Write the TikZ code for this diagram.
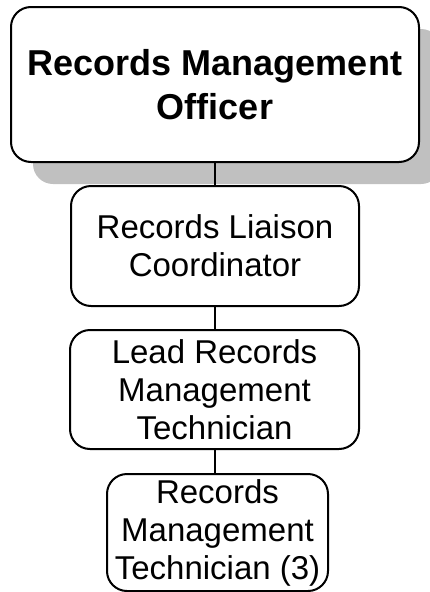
\documentclass[tikz,border=0pt]{standalone}
\usepackage{fontspec}
\setmainfont{Liberation Sans}
\usetikzlibrary{shapes,positioning,shadows}
\definecolor{shade}{RGB}{192,192,192}

\begin{document}
\begin{tikzpicture}[x=1pt,y=-1pt,
  box/.style={draw,line width=2pt,rounded corners=20pt,fill=white,inner sep=0pt,
              align=center,font=\fontsize{33}{38}\selectfont},
  conn/.style={line width=2pt}
]
\useasboundingbox (0,0) rectangle (430,592);
% Officer on top, with its grey shadow
\node[box,minimum width=408pt,minimum height=155pt,
      font=\fontsize{36}{44}\selectfont\bfseries,
      drop shadow={shadow xshift=22pt,shadow yshift=-22pt,fill=shade,opacity=1}]
      (rmo)  at (215,84.5)  {Records Management\\Officer};
% Chain below
\node[box,minimum width=288pt,minimum height=120pt] (rlc)  at (215,246)   {Records Liaison\\Coordinator};
\node[box,minimum width=289pt,minimum height=119pt] (lrmt) at (214.5,389.5) {Lead Records\\Management\\Technician};
\node[box,minimum width=221pt,minimum height=117pt] (rmt)  at (217.5,532.5) {Records\\Management\\Technician (3)};

% Connectors
\draw[conn] (rmo.south)  -- (rmo.south |- rlc.north);
\draw[conn] (rlc.south)  -- (rlc.south |- lrmt.north);
\draw[conn] (lrmt.south) -- (lrmt.south |- rmt.north);
\end{tikzpicture}
\end{document}
